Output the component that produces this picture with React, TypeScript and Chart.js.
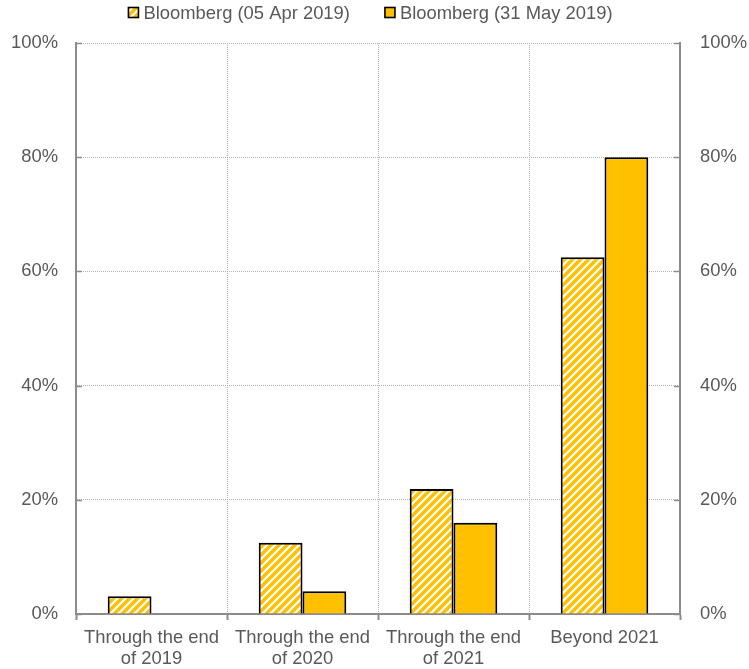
import React, { useEffect, useRef } from "react";
import { Chart, registerables } from "chart.js";

Chart.register(...registerables);

// Forecast horizon buckets and survey shares (%)
const categories: string[][] = [
  ["Through the end", "of 2019"],
  ["Through the end", "of 2020"],
  ["Through the end", "of 2021"],
  ["Beyond 2021"],
];
const seriesNames = ["Bloomberg (05 Apr 2019)", "Bloomberg (31 May 2019)"];
const aprValues = [3.1, 12.5, 21.9, 62.5];
const mayValues = [0, 4.0, 16.0, 80.0];
const yTickValues = [0, 20, 40, 60, 80, 100];

const ORANGE = "#FFC000";
const TEXT = "#595959";
const AXIS = "#8c8c8c";
const GRID = "#b4b4b4";
const FONT = "'Liberation Sans', Arial, Helvetica, sans-serif";
const FONT_SIZE = 18.4;
const W = 749;
const H = 669;

// 8x8 tile with "/" diagonal stripes
function makeHatch(ctx: CanvasRenderingContext2D): CanvasPattern | string {
  const c = document.createElement("canvas");
  c.width = 8;
  c.height = 8;
  const g = c.getContext("2d");
  if (!g) return ORANGE;
  g.fillStyle = "#ffffff";
  g.fillRect(0, 0, 8, 8);
  g.strokeStyle = ORANGE;
  g.lineWidth = 3.4;
  g.beginPath();
  g.moveTo(-2, 10);
  g.lineTo(10, -2);
  g.moveTo(-6, 6);
  g.lineTo(6, -6);
  g.moveTo(2, 14);
  g.lineTo(14, 2);
  g.stroke();
  return ctx.createPattern(c, "repeat") || ORANGE;
}

// Legend row drawn across the top of the canvas
const topLegend = {
  id: "topLegend",
  afterDraw(chart: any) {
    const ctx: CanvasRenderingContext2D = chart.ctx;
    ctx.save();
    ctx.font = `${FONT_SIZE}px ${FONT}`;
    const box = 10;
    const gap = 5;
    const between = 35;
    const items = chart.data.datasets.map((ds: any) => ({
      label: ds.label as string,
      fill: ds.backgroundColor,
      w: ctx.measureText(ds.label).width,
    }));
    const total =
      items.reduce((s: number, it: any) => s + box + gap + it.w, 0) +
      between * (items.length - 1);
    let x = chart.width / 2 - 4 - total / 2;
    const cy = 12.5;
    items.forEach((it: any) => {
      ctx.fillStyle = it.fill;
      ctx.fillRect(x, cy - box / 2, box, box);
      ctx.lineWidth = 1.6;
      ctx.strokeStyle = "#000";
      ctx.strokeRect(x, cy - box / 2, box, box);
      ctx.fillStyle = TEXT;
      ctx.textAlign = "left";
      ctx.textBaseline = "middle";
      ctx.fillText(it.label, x + box + gap, cy + 1);
      x += box + gap + it.w + between;
    });
    ctx.restore();
  },
};

// Short inward tick marks on both value axes
const innerTicks = {
  id: "innerTicks",
  beforeDatasetsDraw(chart: any) {
    const ctx: CanvasRenderingContext2D = chart.ctx;
    const { left, right } = chart.chartArea;
    const y = chart.scales.y;
    ctx.save();
    ctx.strokeStyle = AXIS;
    ctx.lineWidth = 1.5;
    yTickValues.forEach((v) => {
      const py = Math.round(y.getPixelForValue(v)) + 0.5;
      ctx.beginPath();
      ctx.moveTo(left, py);
      ctx.lineTo(left + 6, py);
      ctx.moveTo(right - 6, py);
      ctx.lineTo(right, py);
      ctx.stroke();
    });
    ctx.restore();
  },
};

export default function App() {
  const ref = useRef<HTMLCanvasElement | null>(null);

  useEffect(() => {
    const canvas = ref.current;
    if (!canvas) return;
    const ctx = canvas.getContext("2d");
    if (!ctx) return;
    const hatch = makeHatch(ctx);
    const tickFont = { family: FONT, size: FONT_SIZE };

    const chart = new Chart(ctx, {
      type: "bar",
      data: {
        labels: categories,
        datasets: [
          {
            label: seriesNames[0],
            data: aprValues,
            backgroundColor: hatch as any,
            borderColor: "#000",
            borderWidth: (c: any) => (c.raw === 0 ? 0 : 2),
            yAxisID: "y",
          },
          {
            label: seriesNames[1],
            data: mayValues,
            backgroundColor: ORANGE,
            borderColor: "#000",
            borderWidth: (c: any) => (c.raw === 0 ? 0 : 2),
            yAxisID: "y",
          },
        ],
      },
      options: {
        responsive: false,
        animation: false,
        devicePixelRatio: 1,
        layout: { padding: { top: 43, left: 0, right: 0, bottom: 0 } },
        datasets: {
          bar: { categoryPercentage: 0.58, barPercentage: 1 },
        },
        plugins: {
          legend: { display: false },
          tooltip: { enabled: false },
        },
        scales: {
          x: {
            offset: true,
            grid: {
              display: true,
              offset: true,
              color: GRID,
              lineWidth: 1,
              drawTicks: true,
              tickLength: 6,
              tickColor: AXIS,
              tickWidth: 2,
              tickBorderDash: [],
            },
            border: { display: true, color: AXIS, width: 2, dash: [1, 1] },
            ticks: {
              color: TEXT,
              font: { ...tickFont, lineHeight: 1.15 },
              padding: 7,
              maxRotation: 0,
              autoSkip: false,
            },
            afterFit: (s: any) => {
              s.height = 55;
            },
          },
          y: {
            position: "left",
            min: 0,
            max: 100,
            grid: { color: GRID, lineWidth: 1, drawTicks: false },
            border: { display: true, color: AXIS, width: 2, dash: [1, 1] },
            ticks: {
              stepSize: 20,
              color: TEXT,
              font: tickFont,
              padding: 18,
              callback: (v: any) => `${v}%`,
            },
            afterFit: (s: any) => {
              s.width = 76;
            },
          },
          y1: {
            position: "right",
            min: 0,
            max: 100,
            grid: { drawOnChartArea: false, drawTicks: false },
            border: { display: true, color: AXIS, width: 2 },
            ticks: {
              stepSize: 20,
              color: TEXT,
              font: tickFont,
              padding: 20,
              callback: (v: any) => `${v}%`,
            },
            afterFit: (s: any) => {
              s.width = 69;
            },
          },
        },
      },
      plugins: [topLegend, innerTicks],
    });

    return () => chart.destroy();
  }, []);

  return (
    <div style={{ position: "absolute", left: 0, top: 0, width: W, height: H, background: "#fff" }}>
      <canvas ref={ref} width={W} height={H} style={{ display: "block" }} />
    </div>
  );
}
